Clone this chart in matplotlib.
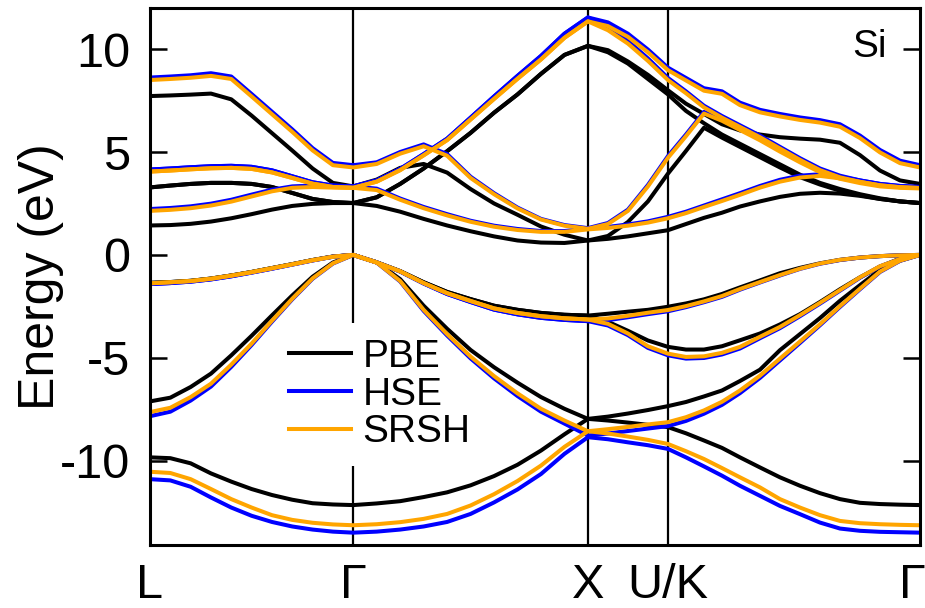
import matplotlib
matplotlib.use('Agg')
import matplotlib.pyplot as plt
from matplotlib.transforms import ScaledTranslation

plt.rcParams['font.family'] = ['Liberation Sans', 'DejaVu Sans']
plt.rcParams['axes.unicode_minus'] = False

# ---------------- data ----------------
kpt_labels = ['L', 'Γ', 'X', 'U/K', 'Γ']
kpt_pos = [0.0, 0.866, 1.866, 2.207, 3.281]

# sample positions (fraction along each path segment)
frac_LG = [0.0, 0.1, 0.2, 0.3, 0.4, 0.5, 0.6, 0.7, 0.8, 0.9, 1.0]
frac_GX = [0.1, 0.2, 0.3, 0.4, 0.5, 0.6, 0.7, 0.8, 0.9, 1.0]
frac_XU = [0.25, 0.5, 0.75, 1.0]
frac_UG = [0.0714, 0.1429, 0.2143, 0.2857, 0.3651, 0.4444, 0.5238,
           0.6032, 0.6825, 0.7619, 0.8413, 0.9206, 1.0]

# PBE bands (eV)
pbe_v1 = [-9.84, -9.88, -10.13, -10.62, -11.02, -11.38, -11.67, -11.90, -12.07, -12.13, -12.16,
          -12.08, -11.97, -11.77, -11.54, -11.20, -10.75, -10.20, -9.51, -8.72, -7.97,
          -8.05, -8.15, -8.26, -8.37,
          -8.67, -9.02, -9.38, -9.84, -10.33, -10.81, -11.22, -11.58, -11.87, -12.05, -12.11, -12.14, -12.16]
pbe_v2 = [-7.12, -6.94, -6.42, -5.77, -4.88, -3.93, -2.94, -1.97, -1.06, -0.37, 0.00,
          -0.36, -1.18, -2.47, -3.59, -4.62, -5.46, -6.21, -6.91, -7.48, -7.97,
          -7.86, -7.71, -7.54, -7.35,
          -7.15, -6.88, -6.59, -6.13, -5.58, -4.63, -3.85, -3.07, -2.23, -1.47, -0.73, -0.28, 0.00]
pbe_v3 = [-1.36, -1.32, -1.26, -1.15, -1.00, -0.83, -0.64, -0.45, -0.25, -0.08, 0.00,
          -0.36, -0.79, -1.33, -1.80, -2.15, -2.47, -2.67, -2.82, -2.91, -2.95,
          -3.25, -3.69, -4.16, -4.47,
          -4.60, -4.60, -4.44, -4.15, -3.82, -3.38, -2.88, -2.29, -1.67, -1.09, -0.57, -0.18, 0.00]
pbe_v4_xg = [-2.86, -2.76, -2.67, -2.52,
             -2.36, -2.16, -1.90, -1.58, -1.24, -0.89, -0.63, -0.41, -0.24, -0.13, -0.06, -0.02, 0.00]
pbe_c1 = [1.43, 1.45, 1.51, 1.62, 1.78, 1.98, 2.20, 2.38, 2.48, 2.52, 2.52,
          2.38, 2.10, 1.75, 1.43, 1.15, 0.90, 0.70, 0.60, 0.58, 0.70,
          0.78, 0.90, 1.05, 1.20,
          1.50, 1.80, 2.05, 2.35, 2.60, 2.82, 2.97, 3.02, 2.98, 2.87, 2.72, 2.60, 2.52]
pbe_c2 = [3.28, 3.37, 3.45, 3.50, 3.50, 3.45, 3.30, 3.01, 2.72, 2.57, 2.52,
          2.80, 3.45, 4.20, 5.04, 5.93, 6.91, 7.80, 8.80, 9.72, 10.16,
          9.95, 9.40, 8.75, 8.00,
          7.35, 6.85, 6.35, 6.05, 5.85, 5.72, 5.65, 5.60, 5.45, 4.85, 4.10, 3.62, 3.45]
pbe_c3_xg = [9.85, 9.30, 8.55, 7.80,
             7.00, 6.40, 5.85, 5.40, 4.90, 4.40, 3.90, 3.50, 3.20, 2.95, 2.75, 2.60, 2.52]
pbe_c4 = [7.72, 7.75, 7.79, 7.84, 7.56, 6.77, 5.92, 5.07, 4.20, 3.50, 3.33,
          3.66, 4.23, 4.42, 4.00, 3.20, 2.50, 1.95, 1.38, 0.98, 0.70,
          0.92, 1.60, 2.60, 3.95,
          5.05, 6.18, 5.70, 5.25, 4.75, 4.25, 3.78, 3.42, 3.12, 2.90, 2.72, 2.60, 2.52]

# HSE bands (eV)
hse_v1 = [-10.90, -10.96, -11.27, -11.79, -12.28, -12.68, -12.98, -13.20, -13.35, -13.45, -13.50,
          -13.45, -13.35, -13.20, -12.98, -12.59, -12.03, -11.40, -10.65, -9.67, -8.86,
          -8.96, -9.11, -9.25, -9.43,
          -9.84, -10.28, -10.73, -11.22, -11.71, -12.20, -12.60, -13.01, -13.30, -13.41, -13.46, -13.48, -13.50]
hse_v2 = [-7.84, -7.62, -7.08, -6.40, -5.44, -4.38, -3.25, -2.16, -1.16, -0.42, 0.00,
          -0.37, -1.29, -2.72, -3.92, -5.03, -6.00, -6.86, -7.62, -8.20, -8.78,
          -8.68, -8.56, -8.44, -8.32,
          -8.07, -7.72, -7.29, -6.72, -5.98, -5.13, -4.28, -3.42, -2.53, -1.67, -0.83, -0.29, 0.00]
hse_v3 = [-1.42, -1.37, -1.30, -1.19, -1.04, -0.86, -0.67, -0.47, -0.27, -0.09, 0.00,
          -0.37, -0.81, -1.39, -1.90, -2.29, -2.66, -2.89, -3.06, -3.16, -3.22,
          -3.43, -3.90, -4.52, -4.88,
          -5.04, -5.01, -4.84, -4.55, -4.05, -3.56, -2.98, -2.37, -1.74, -1.11, -0.56, -0.20, 0.00]
hse_v4_xg = [-3.17, -3.03, -2.88, -2.74,
             -2.54, -2.30, -2.04, -1.69, -1.34, -1.00, -0.68, -0.43, -0.25, -0.13, -0.06, -0.02, 0.00]
hse_c1 = [2.23, 2.28, 2.36, 2.49, 2.68, 2.93, 3.17, 3.33, 3.37, 3.33, 3.33,
          3.22, 2.74, 2.33, 1.98, 1.66, 1.42, 1.26, 1.16, 1.16, 1.28,
          1.36, 1.48, 1.63, 1.85,
          2.10, 2.40, 2.70, 3.00, 3.35, 3.65, 3.85, 3.92, 3.80, 3.62, 3.45, 3.35, 3.30]
hse_c2 = [4.15, 4.20, 4.26, 4.31, 4.33, 4.28, 4.11, 3.82, 3.53, 3.37, 3.33,
          3.62, 4.18, 4.90, 5.65, 6.67, 7.70, 8.70, 9.67, 10.75, 11.54,
          11.30, 10.75, 9.98, 9.10,
          8.60, 8.10, 7.95, 7.40, 7.05, 6.85, 6.68, 6.55, 6.35, 5.80, 5.10, 4.58, 4.36]
hse_c3_xg = [11.10, 10.40, 9.55, 8.60,
             7.95, 7.25, 6.75, 6.30, 5.80, 5.25, 4.70, 4.20, 3.85, 3.62, 3.45, 3.35, 3.30]
hse_c4 = [8.62, 8.67, 8.73, 8.83, 8.67, 7.82, 6.96, 6.10, 5.19, 4.47, 4.36,
          4.50, 5.00, 5.37, 4.90, 3.80, 3.00, 2.30, 1.75, 1.45, 1.30,
          1.55, 2.20, 3.40, 4.80,
          5.85, 6.95, 6.60, 6.15, 5.65, 5.10, 4.58, 4.10, 3.78, 3.56, 3.40, 3.32, 3.28]

# SRSH bands (eV)
srsh_v1 = [-10.54, -10.60, -10.90, -11.38, -11.87, -12.28, -12.65, -12.88, -13.02, -13.10, -13.14,
           -13.09, -12.99, -12.83, -12.59, -12.18, -11.63, -10.99, -10.24, -9.33, -8.57,
           -8.68, -8.83, -8.99, -9.19,
           -9.54, -9.92, -10.36, -10.81, -11.30, -11.87, -12.28, -12.65, -12.93, -13.04, -13.09, -13.12, -13.14]
srsh_v2 = [-7.64, -7.43, -6.91, -6.26, -5.33, -4.31, -3.20, -2.13, -1.14, -0.41, 0.00,
           -0.37, -1.27, -2.67, -3.85, -4.94, -5.89, -6.73, -7.48, -8.05, -8.57,
           -8.47, -8.36, -8.24, -8.13,
           -7.89, -7.56, -7.14, -6.59, -5.87, -5.04, -4.21, -3.37, -2.49, -1.64, -0.81, -0.28, 0.00]
srsh_v3 = [-1.38, -1.33, -1.27, -1.16, -1.01, -0.84, -0.65, -0.46, -0.26, -0.09, 0.00,
           -0.37, -0.80, -1.37, -1.86, -2.24, -2.60, -2.82, -2.98, -3.08, -3.14,
           -3.35, -3.82, -4.44, -4.80,
           -4.96, -4.93, -4.76, -4.47, -3.98, -3.50, -2.93, -2.33, -1.71, -1.09, -0.55, -0.20, 0.00]
srsh_v4_xg = [-3.09, -2.96, -2.81, -2.68,
              -2.49, -2.26, -2.00, -1.66, -1.32, -0.98, -0.67, -0.42, -0.24, -0.13, -0.06, -0.02, 0.00]
srsh_c1 = [2.14, 2.19, 2.27, 2.40, 2.59, 2.84, 3.09, 3.26, 3.30, 3.27, 3.26,
           3.15, 2.68, 2.27, 1.92, 1.61, 1.37, 1.21, 1.12, 1.12, 1.24,
           1.31, 1.42, 1.57, 1.78,
           2.03, 2.33, 2.62, 2.92, 3.27, 3.56, 3.76, 3.84, 3.72, 3.55, 3.38, 3.29, 3.25]
srsh_c2 = [4.05, 4.10, 4.16, 4.21, 4.23, 4.18, 4.01, 3.74, 3.46, 3.30, 3.26,
           3.56, 4.12, 4.84, 5.58, 6.58, 7.58, 8.56, 9.50, 10.55, 11.35,
           11.12, 10.60, 9.85, 8.98,
           8.48, 7.98, 7.83, 7.28, 6.93, 6.73, 6.56, 6.43, 6.23, 5.68, 4.98, 4.46, 4.25]
srsh_c3_xg = [10.92, 10.27, 9.43, 8.50,
              7.86, 7.17, 6.67, 6.22, 5.72, 5.17, 4.62, 4.12, 3.77, 3.55, 3.38, 3.29, 3.25]
srsh_c4 = [8.50, 8.55, 8.61, 8.70, 8.55, 7.70, 6.84, 5.98, 5.08, 4.36, 4.25,
           4.42, 4.92, 5.28, 4.82, 3.74, 2.95, 2.26, 1.72, 1.42, 1.27,
           1.50, 2.14, 3.33, 4.72,
           5.77, 6.87, 6.52, 6.07, 5.57, 5.02, 4.50, 4.02, 3.70, 3.49, 3.33, 3.26, 3.23]

# bands that are degenerate with another one along L-Gamma-X
n_shared = len(frac_LG) + len(frac_GX)
pbe_bands = [pbe_v1, pbe_v2, pbe_v3, pbe_v3[:n_shared] + pbe_v4_xg,
             pbe_c1, pbe_c2, pbe_c2[:n_shared] + pbe_c3_xg, pbe_c4]
hse_bands = [hse_v1, hse_v2, hse_v3, hse_v3[:n_shared] + hse_v4_xg,
             hse_c1, hse_c2, hse_c2[:n_shared] + hse_c3_xg, hse_c4]
srsh_bands = [srsh_v1, srsh_v2, srsh_v3, srsh_v3[:n_shared] + srsh_v4_xg,
              srsh_c1, srsh_c2, srsh_c2[:n_shared] + srsh_c3_xg, srsh_c4]

methods = ['PBE', 'HSE', 'SRSH']
colors = ['black', 'blue', 'orange']

# ---------------- k path ----------------
def seg(i, fracs):
    a, b = kpt_pos[i], kpt_pos[i + 1]
    return [a + f * (b - a) for f in fracs]

kpath = seg(0, frac_LG) + seg(1, frac_GX) + seg(2, frac_XU) + seg(3, frac_UG)

# ---------------- plot ----------------
fig = plt.figure(figsize=(9.25, 6.08), dpi=100)
ax = fig.add_axes([150 / 925, 63 / 608, 770 / 925, 537 / 608])

for kx in kpt_pos[1:4]:
    ax.axvline(kx, color='black', lw=1.6, zorder=1)

for zo, (name, col, bands) in enumerate(zip(methods, colors,
                                             [pbe_bands, hse_bands, srsh_bands])):
    for j, b in enumerate(bands):
        ax.plot(kpath, b, color=col, lw=2.9, solid_joinstyle='round',
                label=name if j == 0 else None, zorder=2 + zo * 0.1)

ax.set_xlim(kpt_pos[0], kpt_pos[-1])
ax.set_ylim(-14.1, 12.0)
ax.set_xticks(kpt_pos)
ax.set_xticklabels(kpt_labels)
ax.set_yticks([-10, -5, 0, 5, 10])
ax.tick_params(axis='x', length=0, pad=13, labelsize=35)
ax.tick_params(axis='y', direction='in', length=12, width=1.8, right=True,
               pad=14, labelsize=35)
for sp in ax.spines.values():
    sp.set_linewidth(2.2)

# keep the last Γ label inside the figure
last = ax.get_xticklabels()[-1]
last.set_transform(last.get_transform() + ScaledTranslation(-8 / 100, 0, fig.dpi_scale_trans))

ax.set_ylabel('Energy (eV)', fontsize=36)
ax.yaxis.set_label_coords(-0.112, 0.5)

ax.text(0.9117, 0.909, 'Si', transform=ax.transAxes, fontsize=28,
        ha='left', va='baseline')

leg = ax.legend(loc='upper left', bbox_to_anchor=(0.16, 0.4134), fontsize=28,
                frameon=True, fancybox=False, edgecolor='none', facecolor='white',
                framealpha=1.0, handlelength=1.6, handletextpad=0.3,
                labelspacing=0.05, borderpad=0.4, borderaxespad=0.0)
leg.set_zorder(1.5)

fig.savefig('out.png', dpi=100)
